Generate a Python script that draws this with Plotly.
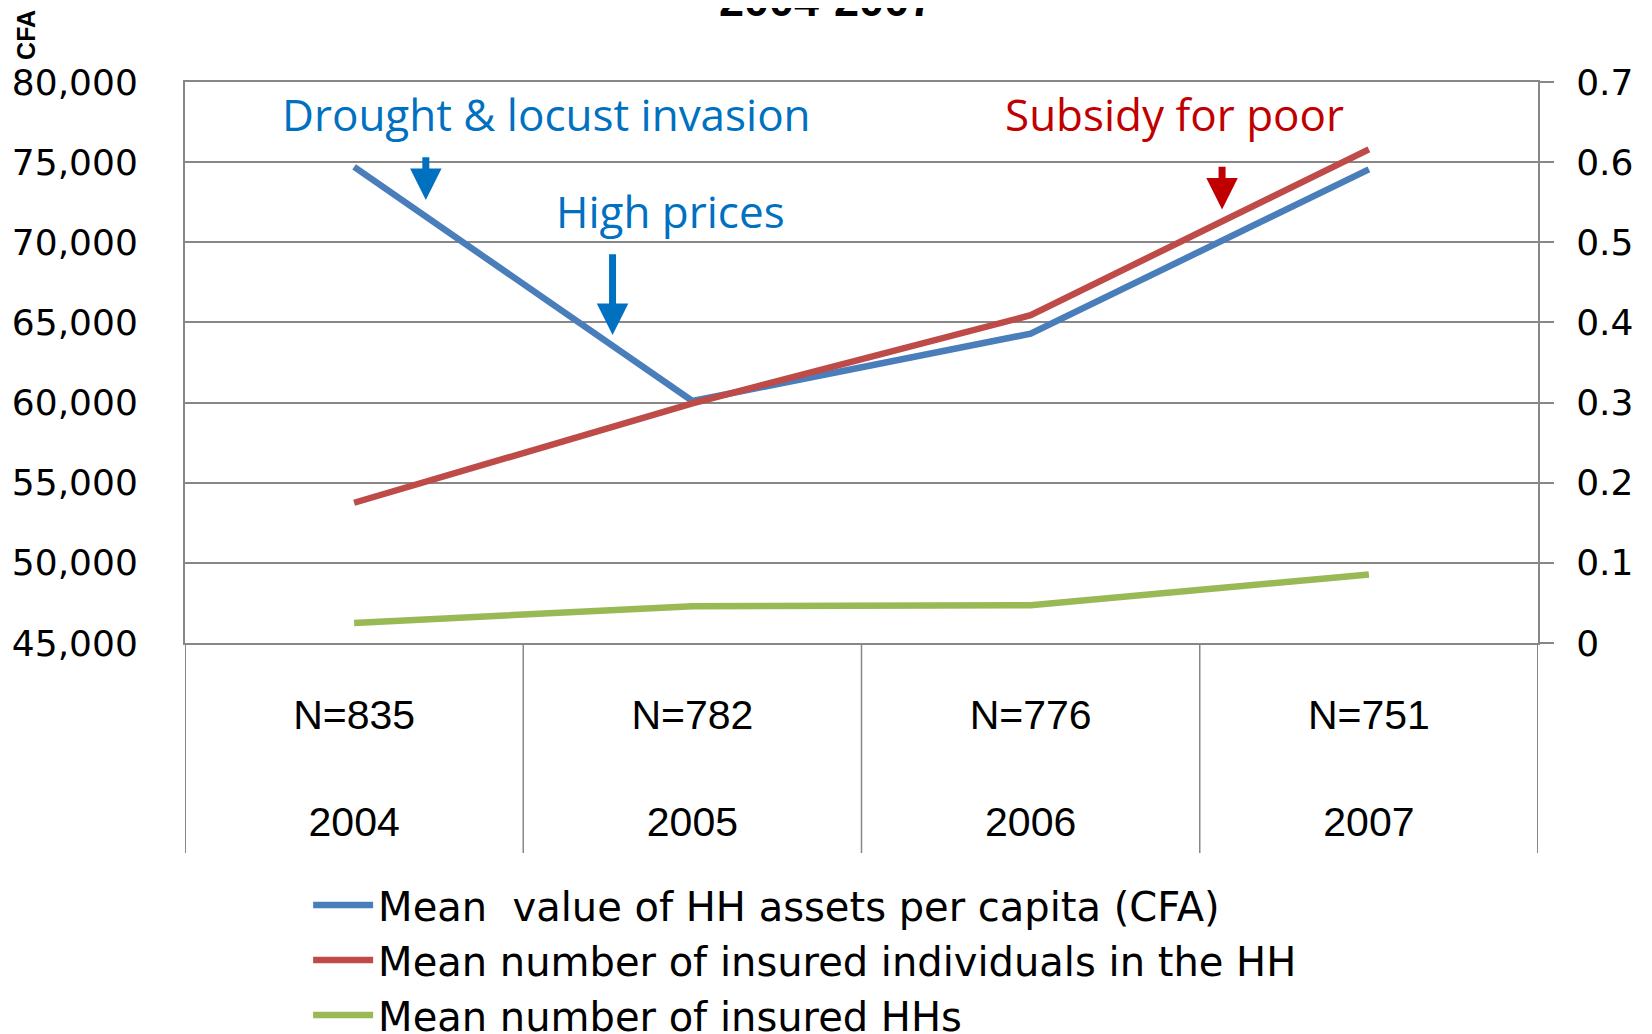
import plotly.graph_objects as go

years = ["2004", "2005", "2006", "2007"]
n_labels = ["N=835", "N=782", "N=776", "N=751"]
assets_cfa = [74700, 60100, 64300, 74550]
insured_individuals = [0.175, 0.299, 0.409, 0.616]
insured_hhs = [0.025, 0.046, 0.047, 0.0855]

series_names = [
    "Mean  value of HH assets per capita (CFA)",
    "Mean number of insured individuals in the HH",
    "Mean number of insured HHs",
]
colors = ["#4A7EBB", "#BE4B48", "#98B954"]
GRID = "#878787"
idx = list(range(len(years)))

fig = go.Figure()
fig.add_trace(go.Scatter(x=idx, y=assets_cfa, name=series_names[0], mode="lines",
                         line=dict(color=colors[0], width=6.5), yaxis="y"))
fig.add_trace(go.Scatter(x=idx, y=insured_individuals, name=series_names[1], mode="lines",
                         line=dict(color=colors[1], width=6.5), yaxis="y2"))
fig.add_trace(go.Scatter(x=idx, y=insured_hhs, name=series_names[2], mode="lines",
                         line=dict(color=colors[2], width=6.5), yaxis="y2"))

ticktext = [f"{n}<br><br>{y}" for n, y in zip(n_labels, years)]

# page has an 8px body margin, so the figure is 8px smaller and shifted
fig.update_layout(
    width=1644, height=1026,
    margin=dict(l=177, r=114, t=74, b=391, autoexpand=False),
    paper_bgcolor="white", plot_bgcolor="white",
    showlegend=True,
    legend=dict(x=0.091, y=-0.409, xanchor="left", yanchor="top",
                font=dict(family="DejaVu Sans", size=40, color="black"),
                itemwidth=60, tracegroupgap=0, bgcolor="rgba(0,0,0,0)"),
    xaxis=dict(range=[-0.5, 3.5], tickmode="array", tickvals=idx, ticktext=ticktext,
               showgrid=False, zeroline=False, showline=True, mirror=True, linecolor=GRID, linewidth=2,
               ticks="", ticklabelstandoff=35,
               tickfont=dict(family="Liberation Sans Narrow, Arial Narrow, Liberation Sans", size=41, color="black")),
    yaxis=dict(range=[45000, 80000], dtick=5000, tickformat=",", showgrid=True,
               gridcolor=GRID, gridwidth=2, zeroline=False, showline=True, linecolor=GRID,
               linewidth=2, ticks="", ticklabelstandoff=38,
               tickfont=dict(family="DejaVu Sans", size=36, color="black")),
    yaxis2=dict(range=[0, 0.7], dtick=0.1, overlaying="y", side="right", showgrid=False,
                zeroline=False, showline=True, linecolor=GRID, linewidth=2,
                ticks="outside", ticklen=14, tickcolor=GRID, tickwidth=2, ticklabelstandoff=15,
                tickfont=dict(family="DejaVu Sans", size=36, color="black")),
)

# category dividers extending below the plot
for b in [-0.5, 0.5, 1.5, 2.5, 3.5]:
    fig.add_shape(type="line", xref="x", yref="paper", x0=b, x1=b, y0=0, y1=-210 / 561,
                  line=dict(color=GRID, width=1.5 if b not in (-0.5, 3.5) else 2))

annotations = [
    dict(text="<b>2004-2007</b>", xref="paper", yref="paper", x=0.4745, y=1.096,
         xanchor="center", yanchor="bottom", showarrow=False,
         font=dict(family="Liberation Sans", size=45, color="black")),
    dict(text="<b>CFA</b>", xref="paper", yref="paper", x=-0.1175, y=1.084,
         xanchor="center", yanchor="middle", textangle=-90, showarrow=False,
         font=dict(family="Liberation Sans", size=25, color="black")),
    dict(text="Drought &amp; locust invasion", xref="x", yref="y", x=0.570, y=78026,
         showarrow=False, font=dict(family="Open Sans", size=44, color="#0070C0")),
    dict(text="High prices", xref="x", yref="y", x=0.935, y=71974,
         showarrow=False, font=dict(family="Open Sans", size=44, color="#0070C0")),
    dict(text="Subsidy for poor", xref="x", yref="y", x=2.425, y=78026,
         showarrow=False, font=dict(family="Open Sans", size=44, color="#C00000")),
]
arrows = [
    (0.212, 72632, 75395, "#0070C0"),
    (0.764, 64210, 69342, "#0070C0"),
    (2.566, 72040, 74803, "#C00000"),
]
for x, tip, tail, c in arrows:
    annotations.append(dict(text="", xref="x", yref="y", x=x, y=tip, axref="x", ayref="y",
                            ax=x, ay=tail, showarrow=True, arrowhead=2, arrowsize=0.9,
                            arrowwidth=7, arrowcolor=c, standoff=0))
fig.update_layout(annotations=annotations)

fig.write_html("out.html")
